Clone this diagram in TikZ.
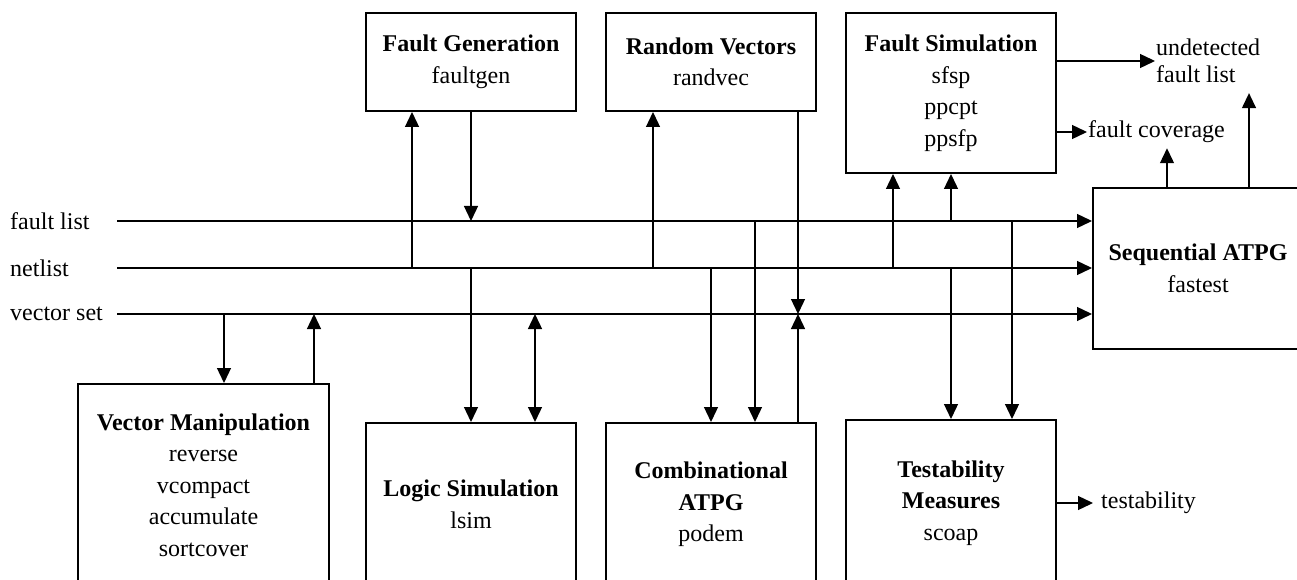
\documentclass[tikz,border=0pt]{standalone}
\usepackage{fontspec}
\setmainfont{Liberation Serif}
\usetikzlibrary{arrows.meta,positioning}

\begin{document}
\begin{tikzpicture}[
    x=1pt, y=1pt,
    font=\fontsize{24}{31.5}\selectfont,
    block/.style={
        rectangle, % shape
        draw,
        line width=2pt, %border
        minimum width=210pt,
        inner sep=0pt,
        align=center},
    arr/.style={-{Triangle[length=15pt,width=14pt]}, line width=1.3pt},
    sig/.style={inner sep=0pt, anchor=west}
  ]
  \useasboundingbox (0,0) rectangle (1297,579);
  \clip (0,0) rectangle (1297,579);

  % upper row
  \node (fg) [block, minimum height=98pt] at (471,517) {\textbf{Fault Generation}\\faultgen};
  \node (rv) [block, minimum height=98pt] at (711,517) {\textbf{Random Vectors}\\randvec};
  \node (fs) [block, minimum height=160pt] at (951,486) {\textbf{Fault Simulation}\\sfsp\\ppcpt\\ppsfp};
  \node (sa) [block, minimum height=161pt] at (1198,310.5) {\textbf{Sequential ATPG}\\fastest};
  % lower row
  \node (vm) [block, minimum width=251pt, minimum height=202pt] at (203.5,94)
    {\textbf{Vector Manipulation}\\reverse\\vcompact\\accumulate\\sortcover};
  \node (ls) [block, minimum height=163pt] at (471,74.5) {\textbf{Logic Simulation}\\lsim};
  \node (ca) [block, minimum height=163pt] at (711,74.5) {\textbf{Combinational}\\\textbf{ATPG}\\podem};
  \node (tm) [block, minimum height=166pt] at (951,76) {\textbf{Testability}\\\textbf{Measures}\\scoap};

  % buses
  \node (fl) [sig] at (10,358) {fault list};
  \node (nl) [sig] at (10,311) {netlist};
  \node (vs) [sig] at (10,265) {vector set};
  \coordinate (fl0) at (117,358);
  \coordinate (nl0) at (117,311);
  \coordinate (vs0) at (117,265);
  \draw[arr] (fl0) -- (fl0 -| sa.west);
  \draw[arr] (nl0) -- (nl0 -| sa.west);
  \draw[arr] (vs0) -- (vs0 -| sa.west);

  % outputs
  \node (uf) [sig, inner xsep=1pt, inner ysep=10pt, align=left, font=\fontsize{24}{27}\selectfont]
    at (1155,518) {undetected\\fault list};
  \node (fc) [sig, inner xsep=1pt, inner ysep=5pt] at (1087,447) {fault coverage};
  \node (te) [sig, inner xsep=8pt] at (1093,76) {testability};
  \draw[arr] (fs.east |- uf.west) -- (uf.west);
  \draw[arr] (fs.east |- fc.west) -- (fc.west);
  \draw[arr] ([xshift=-31pt]sa.north) -- ([xshift=-31pt]sa.north |- fc.south);
  \draw[arr] ([xshift=51pt]sa.north) -- ([xshift=51pt]sa.north |- uf.south);
  \draw[arr] (tm.east) -- (te.west);

  % fault generation / random vectors
  \draw[arr] ([xshift=-59pt]fg.south |- nl0) -- ([xshift=-59pt]fg.south);
  \draw[arr] (fg.south) -- (fg.south |- fl0);
  \draw[arr] ([xshift=-58pt]rv.south |- nl0) -- ([xshift=-58pt]rv.south);
  \draw[arr] ([xshift=87pt]rv.south) -- ([xshift=87pt]rv.south |- vs0);

  % fault simulation / testability
  \draw[arr] ([xshift=-58pt]fs.south |- nl0) -- ([xshift=-58pt]fs.south);
  \draw[arr] (fs.south |- fl0) -- (fs.south);
  \draw[arr] (tm.north |- nl0) -- (tm.north);
  \draw[arr] ([xshift=61pt]tm.north |- fl0) -- ([xshift=61pt]tm.north);

  % vector manipulation
  \draw[arr] ([xshift=20.5pt]vm.north |- vs0) -- ([xshift=20.5pt]vm.north);
  \draw[arr] ([xshift=110.5pt]vm.north) -- ([xshift=110.5pt]vm.north |- vs0);

  % logic simulation / combinational atpg
  \draw[arr] (ls.north |- nl0) -- (ls.north);
  \draw[{Triangle[length=15pt,width=14pt]}-{Triangle[length=15pt,width=14pt]}, line width=1.3pt]
    ([xshift=64pt]ls.north |- vs0) -- ([xshift=64pt]ls.north);
  \draw[arr] (ca.north |- nl0) -- (ca.north);
  \draw[arr] ([xshift=44pt]ca.north |- fl0) -- ([xshift=44pt]ca.north);
  \draw[arr] ([xshift=87pt]ca.north) -- ([xshift=87pt]ca.north |- vs0);
\end{tikzpicture}
\end{document}
